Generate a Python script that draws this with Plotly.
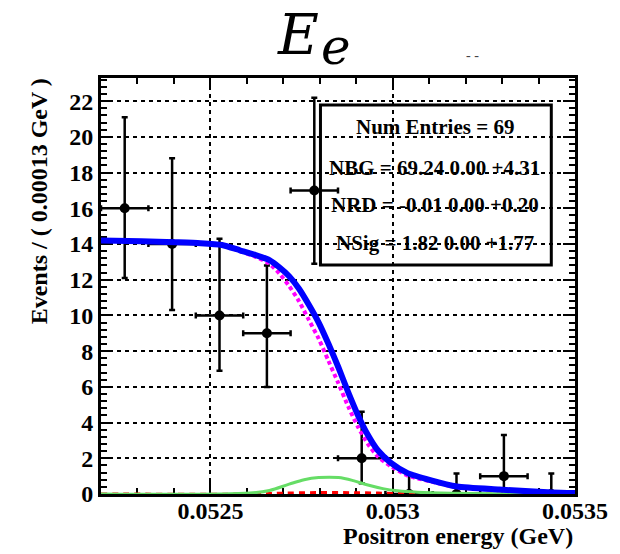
import plotly.graph_objects as go

# ---- data ----
bin_centers = [0.052265, 0.052395, 0.052525, 0.052655, 0.052785,
               0.052915, 0.053045, 0.053175, 0.053305, 0.053435]
counts = [16, 14, 10, 9, 17, 2, 0, 0, 1, 0]
err_hi = [5.1, 4.8, 4.3, 3.8, 5.2, 2.6, 1.15, 1.15, 2.3, 1.15]
err_lo = [3.9, 3.7, 3.1, 3.0, 4.1, 1.4, 0.0, 0.0, 0.83, 0.0]
half_bin = [0.000065] * 10

curve_x = [0.05220, 0.052311, 0.052403, 0.052473, 0.052532, 0.052581,
           0.052622, 0.052662, 0.052689, 0.052716, 0.052743, 0.052770,
           0.052797, 0.052824, 0.052851, 0.052878, 0.052905, 0.052932,
           0.052959, 0.052995, 0.053041, 0.053103, 0.053176, 0.053292,
           0.053438, 0.05350]
total_pdf = [14.2, 14.15, 14.1, 14.05, 13.95, 13.65, 13.4, 13.1, 12.7, 12.2,
             11.5, 10.6, 9.6, 8.4, 7.1, 5.7, 4.4, 3.3, 2.45, 1.75, 1.17,
             0.78, 0.42, 0.25, 0.08, 0.05]
bkg_pdf = [14.2, 14.15, 14.1, 14.05, 13.95, 13.6, 13.3, 12.9, 12.35, 11.65,
           10.8, 9.75, 8.7, 7.45, 6.2, 4.9, 3.75, 2.8, 2.1, 1.55, 1.03,
           0.71, 0.38, 0.24, 0.08, 0.05]

sig_x = [0.05220, 0.052608, 0.052662, 0.052716, 0.052757, 0.052797,
         0.052851, 0.052892, 0.052932, 0.052973, 0.053014, 0.053068,
         0.053176, 0.053284, 0.05350]
sig_pdf = [0.0, 0.05, 0.2, 0.55, 0.8, 0.92, 0.92, 0.75, 0.5, 0.3, 0.18,
           0.1, 0.04, 0.01, 0.0]

rd_x = [0.05220, 0.05261, 0.05269, 0.05280, 0.05291, 0.05301, 0.05312, 0.05350]
rd_pdf = [0.0, 0.0, 0.04, 0.08, 0.07, 0.03, 0.0, 0.0]

x_ticks = [0.0525, 0.053, 0.0535]
x_tick_text = ["0.0525", "0.053", "0.0535"]
y_ticks = list(range(0, 24, 2))

stats_lines = ["Num Entries = 69",
               "NBG = 69.24 0.00 +4.31",
               "NRD = -0.01 0.00 +0.20",
               "NSig = 1.82 0.00 +1.77"]

FONT = "Liberation Serif"

fig = go.Figure()

fig.add_trace(go.Scatter(
    x=bin_centers, y=counts, mode="markers",
    marker=dict(color="black", size=10),
    error_y=dict(type="data", symmetric=False, array=err_hi, arrayminus=err_lo,
                 color="black", thickness=2.5, width=3),
    error_x=dict(type="data", array=half_bin, color="black", thickness=2.5, width=3),
    showlegend=False))

fig.add_trace(go.Scatter(x=rd_x, y=rd_pdf, mode="lines", line_shape="spline",
                         line=dict(color="red", width=3, dash="6px,5px"), showlegend=False))
fig.add_trace(go.Scatter(x=sig_x, y=sig_pdf, mode="lines", line_shape="spline",
                         line=dict(color="#66dd66", width=3), showlegend=False))
fig.add_trace(go.Scatter(x=curve_x, y=bkg_pdf, mode="lines", line_shape="spline",
                         line=dict(color="magenta", width=4, dash="4px,3px", smoothing=0.6),
                         showlegend=False))
fig.add_trace(go.Scatter(x=curve_x, y=total_pdf, mode="lines", line_shape="spline",
                         line=dict(color="blue", width=6, smoothing=0.6), showlegend=False))

axis_common = dict(showline=True, linecolor="black", linewidth=3, mirror="allticks",
                   ticks="inside", ticklen=12, tickwidth=2, tickcolor="black",
                   showgrid=True, gridcolor="black", gridwidth=2, griddash="4px,4px",
                   zeroline=False, layer="below traces",
                   tickfont=dict(family=FONT, size=24, color="black", weight="bold"))

fig.update_xaxes(range=[0.0522, 0.0535], tickvals=x_ticks, ticktext=x_tick_text,
                 ticklabelstandoff=-7,
                 minor=dict(dtick=0.0001, tick0=0.0522, ticks="inside", ticklen=6,
                            tickwidth=2, tickcolor="black", showgrid=False),
                 **axis_common)
fig.update_yaxes(range=[0, 23.3], tickvals=y_ticks,
                 minor=dict(dtick=0.4, tick0=0, ticks="inside", ticklen=6,
                            tickwidth=2, tickcolor="black", showgrid=False),
                 **axis_common)

# stats box
fig.add_shape(type="rect", xref="paper", yref="paper", x0=0.463, x1=0.950,
              y0=0.5505, y1=0.935, line=dict(color="black", width=3),
              fillcolor="rgba(0,0,0,0)", layer="above")
for txt, yy in zip(stats_lines, [0.882, 0.784, 0.695, 0.603]):
    fig.add_annotation(text=txt, xref="paper", yref="paper", x=0.704, y=yy,
                       xanchor="center", yanchor="middle", showarrow=False,
                       font=dict(family=FONT, size=21, color="black", weight="bold"))

# axis titles
fig.add_annotation(text="Positron energy (GeV)", xref="paper", yref="paper",
                   x=1.0, y=-0.101, xanchor="right", yanchor="middle", showarrow=False,
                   font=dict(family=FONT, size=24, color="black", weight="bold"))
fig.add_annotation(text="Events / ( 0.00013 GeV )", xref="paper", yref="paper",
                   x=-0.132, y=1.005, xanchor="center", yanchor="top", textangle=-90,
                   showarrow=False,
                   font=dict(family=FONT, size=24, color="black", weight="bold"))

# title  E_e
fig.add_annotation(text="<i>E</i>", xref="paper", yref="paper", x=0.367, y=1.1875,
                   xanchor="left", yanchor="top", showarrow=False,
                   font=dict(family="DejaVu Serif", size=56, color="black"))
fig.add_annotation(text="<i>e</i>", xref="paper", yref="paper", x=0.459, y=1.150,
                   xanchor="left", yanchor="top", showarrow=False,
                   font=dict(family="DejaVu Serif", size=50, color="black"))
fig.add_annotation(text="- -", xref="paper", yref="paper", x=0.784, y=1.055,
                   xanchor="center", yanchor="middle", showarrow=False,
                   font=dict(family=FONT, size=14, color="#444"))

fig.update_layout(width=620, height=554, margin=dict(l=101, r=42, t=78, b=60),
                  plot_bgcolor="white", paper_bgcolor="white")

fig.write_html("out.html", config={"displayModeBar": False},
               post_script="document.body.style.margin='0';"
                           "document.body.style.overflow='hidden';")
